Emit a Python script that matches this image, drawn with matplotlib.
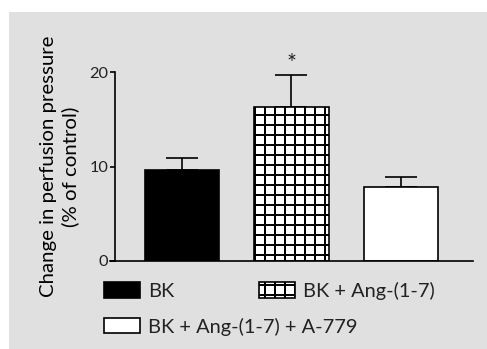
"""Bar chart: change in perfusion pressure for BK, BK + Ang-(1-7), BK + Ang-(1-7) + A-779."""

import matplotlib

matplotlib.use("Agg")
import matplotlib.pyplot as plt
from matplotlib.patches import Rectangle

labels = ["BK", "BK + Ang-(1-7)", "BK + Ang-(1-7) + A-779"]
means = [9.6, 16.3, 7.85]
errors = [1.3, 3.35, 1.05]
stars = ["", "*", ""]
yticks = [0, 10, 20]

PANEL = "#e0e0e0"
FS = 12.0       # legend / axis label
FS_TICK = 9.8

plt.rcParams["font.family"] = ["Lato", "DejaVu Sans"]
plt.rcParams["hatch.linewidth"] = 1.2
plt.rcParams["text.color"] = "#222222"

fig = plt.figure(figsize=(487 / 120, 349 / 120), dpi=120, facecolor="white")
fig.patches.append(Rectangle((9 / 487, 0), 1, 1 - 12 / 349, transform=fig.transFigure,
                             facecolor=PANEL, edgecolor="none", zorder=-5))

ax = fig.add_axes([115 / 487, 88 / 349, 358 / 487, 189 / 349])
ax.set_facecolor("none")

x = range(len(labels))
styles = [dict(facecolor="black", hatch=None),
          dict(facecolor="white", hatch="++"),
          dict(facecolor="white", hatch=None)]
bars = []
for i in x:
    b = ax.bar(i, means[i], width=0.68, edgecolor="black", linewidth=1.0,
               label=labels[i], zorder=2, **styles[i])
    bars.append(b)
    ax.errorbar(i, means[i], yerr=[[0], [errors[i]]], fmt="none", ecolor="black",
                elinewidth=1.0, capsize=9.5, capthick=1.0, zorder=1, clip_on=False)
    if stars[i]:
        ax.text(i, means[i] + errors[i] + 0.1, stars[i], ha="center", va="bottom",
                fontsize=14)

ax.set_xlim(-0.612, 2.658)
ax.set_ylim(0, 20)
ax.set_yticks(yticks)
ax.set_xticks([])
ax.tick_params(axis="y", labelsize=FS_TICK, length=3, width=1.0, pad=1,
               labelcolor="#222222")
for s in ("top", "right"):
    ax.spines[s].set_visible(False)
for s in ("left", "bottom"):
    ax.spines[s].set_linewidth(1.0)
ax.spines["bottom"].set_bounds(-0.655, 2.658)
ax.set_ylabel("Change in perfusion pressure\n(% of control)", fontsize=FS + 0.2,
              linespacing=1.3, labelpad=6, multialignment="center")

leg_kw = dict(frameon=False, fontsize=FS, handlelength=1.82, handleheight=0.82,
              handletextpad=0.4, borderaxespad=0, borderpad=0)
fig.legend([bars[0], bars[1]], labels[:2], ncol=2, columnspacing=4.2,
           loc="center left", bbox_to_anchor=(104 / 487, 1 - 291 / 349), **leg_kw)
fig.legend([bars[2]], labels[2:], loc="center left",
           bbox_to_anchor=(104 / 487, 1 - 326.5 / 349), **leg_kw)

fig.savefig("out.png", dpi=120, facecolor="white")
